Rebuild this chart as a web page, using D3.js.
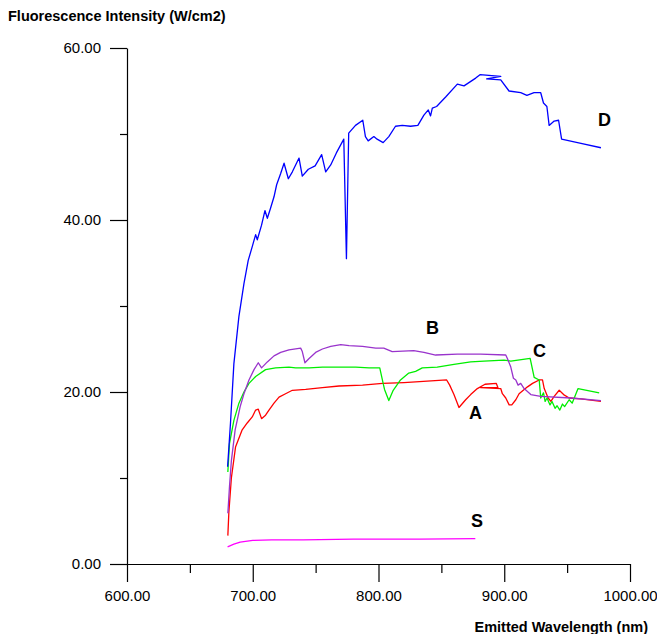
<!DOCTYPE html>
<html>
<head>
<meta charset="utf-8">
<script src="https://cdn.jsdelivr.net/npm/d3@7"></script>
<style>
  body { margin: 0; background: #fff; }
  svg { font-family: "Liberation Sans", Arial, sans-serif; }
</style>
</head>
<body>
<script>
var w = 657,
    h = 634;

// wavelength (nm) / intensity (W/cm2) pairs
var seriesD = [
  [680,11.3],[682.3,16.4],[685,23.3],[689,28.8],[693,32.6],[696.4,35.3],[699.6,36.9],[702.3,38.3],
  [703.6,37.7],[707,39.4],[709.7,41.1],[711.6,40.2],[714.2,41.4],[716.9,42.7],[719,44.1],[722.2,45.4],
  [724.9,46.6],[728.3,44.8],[731.5,45.6],[736.8,47.2],[739.4,45.1],[744.2,45.9],[749.6,46.3],[754.8,47.6],
  [758,45.6],[762,46.4],[766.5,47.8],[772.4,49.4],[774.5,35.5],[776.3,50.1],[781.7,51.0],[787.5,51.6],
  [789.6,49.7],[791.8,49.2],[796.3,49.7],[798.9,49.4],[803.7,49.0],[808.2,49.7],[813.5,50.9],[818.9,51.0],
  [825.5,50.9],[831.3,51.0],[836.1,52.2],[839.6,52.8],[841.4,52.1],[842.8,53.0],[846.2,53.2],[853.4,54.3],
  [862.7,55.8],[868,55.6],[877.3,56.5],[880.7,56.9],[897.2,56.7],[886,56.4],[897.2,56.3],[903.8,55.0],
  [913.1,54.8],[918,54.5],[923.7,54.8],[929,54.8],[931.2,53.6],[933.9,53.2],[935.7,51.0],[939.7,51.5],
  [943.2,51.6],[945.6,49.4],[961,48.9],[976.9,48.4]
];

var seriesB = [
  [680.2,5.9],[681.5,9],[683,12],[686,15.6],[690,18.3],[693,19.8],[697,21.4],[701,22.6],[704.4,23.4],
  [707,22.8],[711.6,23.5],[716.9,24.2],[722.2,24.6],[728.8,24.9],[738.1,25.1],[739.4,24.7],[741.5,23.4],
  [744.8,23.9],[750,24.6],[755.4,25.0],[762,25.3],[770,25.5],[776.6,25.4],[787.3,25.3],[797.8,25.1],
  [804.2,25.1],[810.9,24.7],[828,24.8],[836.1,24.6],[845.4,24.3],[862.7,24.4],[881.3,24.4],[901.2,24.3],
  [902.5,23.9],[905.2,22.9],[907.3,21.6],[909.2,21.4],[911,20.8],[913.1,21.0],[915.8,20.4],[921.1,19.7],
  [929,19.5],[953,19.3],[976.9,19.0]
];

var seriesC = [
  [680.2,10.7],[681.5,14.0],[685,16.7],[689,18.7],[693,20.0],[697,21.0],[702.3,21.8],[710.2,22.6],
  [718.2,22.8],[728.8,22.9],[734.1,22.8],[744.8,22.8],[755.4,22.9],[768.6,22.9],[781.9,22.9],[792.5,22.8],
  [801,22.8],[803.7,21.0],[804.8,20.3],[808.2,19.0],[811.7,20.2],[817.5,21.4],[824.1,22.2],[829.5,22.4],
  [834.8,22.8],[846.7,22.9],[860,23.2],[873.3,23.5],[883.9,23.6],[899.8,23.7],[905.2,23.6],[920.6,23.9],
  [923.8,21.7],[927.8,21.4],[929,19.3],[931.2,19.9],[932.5,18.9],[934,19.3],[936.4,18.5],[938,18.9],
  [940.4,18.1],[942,18.4],[944.2,17.9],[946.3,18.6],[948,18.3],[951.6,19.1],[954,18.7],[958.7,20.4],
  [975.5,19.9]
];

var seriesA = [
  [680.2,3.3],[681,6],[683,10],[686.3,13.6],[691.6,15.6],[695.6,16.4],[699.6,17.1],[702.3,17.9],
  [704.4,18.0],[707,16.9],[710.2,17.3],[712.9,17.9],[716.9,18.7],[720.9,19.4],[726.1,19.8],[731.5,20.2],
  [742.1,20.3],[755.4,20.5],[768.6,20.7],[787.3,20.8],[803.2,21.0],[820.2,21.1],[854.2,21.4],[856.6,20.8],
  [860,19.7],[864,18.2],[869.3,19.1],[873.3,19.7],[878.6,20.4],[884.7,20.9],[893.7,21.0],[895,20.5],
  [881.3,20.5],[897.2,20.4],[898.5,19.8],[901.2,19.3],[903.9,18.5],[906,18.5],[909.2,19.1],[911.8,19.8],
  [918.5,20.6],[922.5,21.0],[927.8,21.4],[930.4,21.4],[931.8,20.4],[934.9,19.3],[937.1,18.9],[939.7,19.5],
  [943.7,20.2],[947.2,19.7],[951.6,19.3],[961,19.2],[976.9,18.9]
];

var seriesS = [
  [680,2.0],[685,2.3],[690,2.55],[700,2.75],[715,2.8],[740,2.8],[780,2.9],[833,2.9],[877,2.95]
];

var xTicks = [600, 700, 800, 900, 1000],
    xMinor = [650, 750, 850, 950],
    yTicks = [0, 20, 40, 60],
    yMinor = [10, 30, 50];

var x = d3.scaleLinear().domain([600, 1000]).range([127, 630]);
var y = d3.scaleLinear().domain([0, 60]).range([564, 48]);

var svg = d3.select("body").append("svg").attr("width", w).attr("height", h);

var fmt = d3.format(".2f");

// axes
svg.append("g").attr("transform", "translate(" + x(600) + ",0)")
  .call(d3.axisLeft(y).tickValues(yTicks).tickFormat(fmt).tickSize(17).tickSizeOuter(0).tickPadding(9));
svg.append("g").attr("transform", "translate(" + x(600) + ",0)")
  .call(d3.axisLeft(y).tickValues(yMinor).tickFormat("").tickSize(7).tickSizeOuter(0))
  .select(".domain").remove();

svg.append("g").attr("transform", "translate(0," + y(0) + ")")
  .call(d3.axisBottom(x).tickValues(xTicks).tickFormat(fmt).tickSize(18).tickSizeOuter(0).tickPadding(8));
svg.append("g").attr("transform", "translate(0," + y(0) + ")")
  .call(d3.axisBottom(x).tickValues(xMinor).tickFormat("").tickSize(9).tickSizeOuter(0))
  .select(".domain").remove();

svg.selectAll(".tick text").attr("font-size", 15).attr("fill", "#000")
  .attr("font-family", "'Liberation Sans', Arial, sans-serif");
svg.selectAll(".domain, .tick line").attr("stroke", "#000").attr("stroke-width", 1.2);

// axis titles
svg.append("text").text("Fluorescence Intensity (W/cm2)")
  .attr("x", 8).attr("y", 21)
  .attr("font-size", 14.5).attr("font-weight", "bold");

svg.append("text").text("Emitted Wavelength (nm)")
  .attr("x", 648).attr("y", 632).attr("text-anchor", "end")
  .attr("font-size", 14.5).attr("font-weight", "bold");

// curves
var lineFn = d3.line()
  .x(function(d) { return x(d[0]); })
  .y(function(d) { return y(d[1]); });

var curves = [
  {data: seriesS, color: "#ff00ff"},
  {data: seriesA, color: "#ff0000"},
  {data: seriesC, color: "#00ee00"},
  {data: seriesB, color: "#9933cc"},
  {data: seriesD, color: "#0000ff"}
];

svg.selectAll("path.curve")
  .data(curves)
  .enter()
  .append("path")
  .attr("class", "curve")
  .attr("d", function(d) { return lineFn(d.data); })
  .attr("fill", "none")
  .attr("stroke", function(d) { return d.color; })
  .attr("stroke-width", 1.3)
  .attr("stroke-linejoin", "round");

// curve letters
var letters = [
  {t: "D", wl: 974.6, v: 50.9},
  {t: "B", wl: 837.8, v: 26.7},
  {t: "C", wl: 922.9, v: 24.1},
  {t: "A", wl: 872, v: 16.9},
  {t: "S", wl: 873.6, v: 4.3}
];

svg.selectAll("text.letter")
  .data(letters)
  .enter()
  .append("text")
  .attr("class", "letter")
  .text(function(d) { return d.t; })
  .attr("x", function(d) { return x(d.wl); })
  .attr("y", function(d) { return y(d.v); })
  .attr("font-size", 18)
  .attr("font-weight", "bold");
</script>
</body>
</html>
